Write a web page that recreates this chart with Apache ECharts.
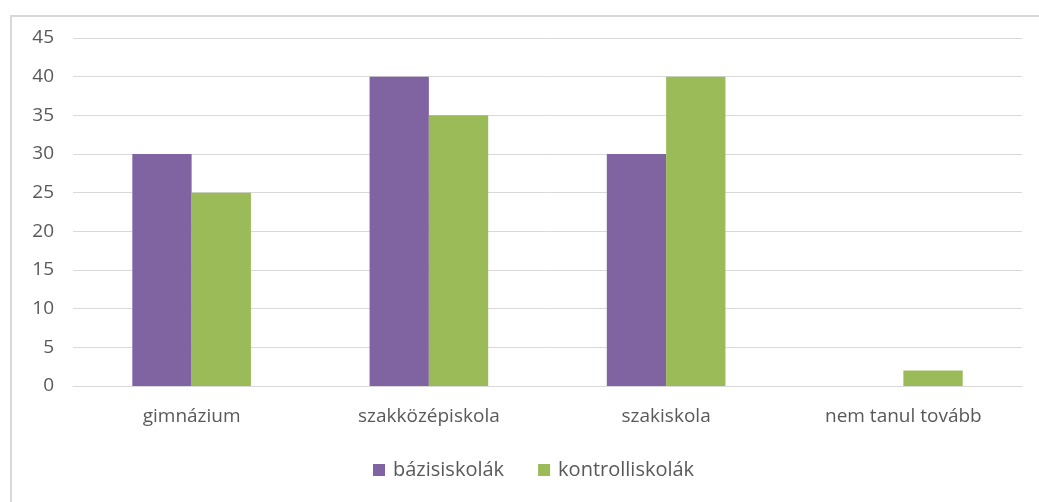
<!DOCTYPE html>
<html>
<head>
<meta charset="utf-8">
<script src="https://cdn.jsdelivr.net/npm/echarts@6/dist/echarts.min.js"></script>
<style>
  html, body { margin: 0; padding: 0; background: #fff; }
  #frame { position: absolute; left: 10px; top: 15px; width: 1040px; height: 500px;
           border-left: 2px solid #d9d9d9; border-top: 2px solid #d9d9d9; }
  #chart { position: absolute; left: 0; top: 0; width: 1039px; height: 502px; }
</style>
</head>
<body>
<div id="frame"></div>
<div id="chart"></div>
<script>
const categories = ['gimnázium', 'szakközépiskola', 'szakiskola', 'nem tanul tovább'];
const seriesNames = ['bázisiskolák', 'kontrolliskolák'];
const bazisValues = [30, 40, 30, 0];
const kontrollValues = [25, 35, 40, 2];

const labelStyle = {
    color: '#595959',
    fontSize: 19,
    fontFamily: 'Open Sans'
};

const chart = echarts.init(document.getElementById('chart'));
chart.setOption({
    animation: false,
    grid: { left: 73, right: 17, top: 38, bottom: 116, containLabel: false },
    legend: {
        data: seriesNames,
        bottom: 22,
        left: 373,
        padding: 0,
        itemWidth: 12,
        itemHeight: 12,
        itemGap: 34,
        icon: 'rect',
        textStyle: Object.assign({}, labelStyle, { fontSize: 20, padding: [0, 0, 0, 3] })
    },
    xAxis: {
        type: 'category',
        data: categories,
        axisTick: { show: false },
        axisLine: { show: true, lineStyle: { color: '#d9d9d9', width: 1 } },
        axisLabel: Object.assign({ margin: 21 }, labelStyle)
    },
    yAxis: {
        type: 'value',
        min: 0,
        max: 45,
        interval: 5,
        axisLine: { show: false },
        axisTick: { show: false },
        axisLabel: Object.assign({ margin: 19 }, labelStyle),
        splitLine: { lineStyle: { color: '#d9d9d9', width: 1 } }
    },
    series: [
        {
            name: seriesNames[0],
            type: 'bar',
            data: bazisValues,
            barGap: '0%',
            barCategoryGap: '50%',
            itemStyle: { color: '#8064a2' }
        },
        {
            name: seriesNames[1],
            type: 'bar',
            data: kontrollValues,
            itemStyle: { color: '#9bbb59' }
        }
    ]
});
</script>
</body>
</html>
